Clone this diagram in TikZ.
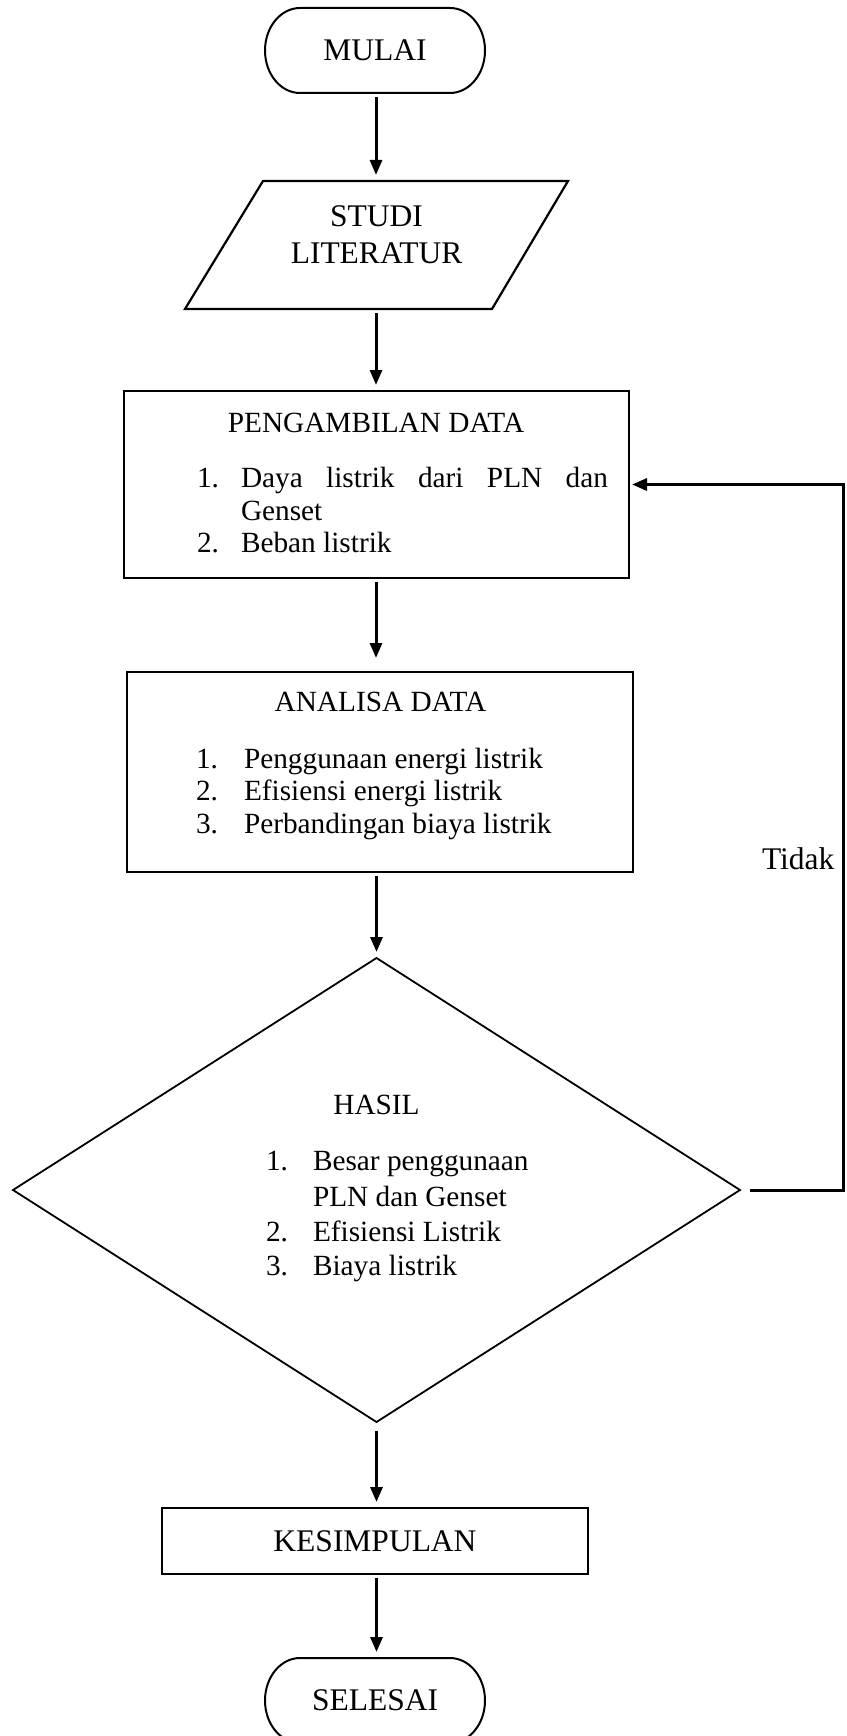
\documentclass[tikz,border=0pt]{standalone}
\usepackage{fontspec}
\setmainfont{Liberation Serif}
\usetikzlibrary{arrows.meta,shapes.geometric}
\newcommand{\termoutline}[1]{%
  \draw[line width=2pt] ([xshift=35pt]#1.north west) -- ([xshift=-35pt]#1.north east)
    arc[start angle=90,end angle=-90,x radius=35pt,y radius=42.5pt]
    -- ([xshift=35pt]#1.south west)
    arc[start angle=270,end angle=90,x radius=35pt,y radius=42.5pt] -- cycle;}
\begin{document}
\begin{tikzpicture}[x=1pt,y=-1pt,
  every node/.style={font=\fontsize{29.3pt}{33pt}\selectfont, inner sep=0pt, outer sep=0pt},
  bigtext/.style={font=\fontsize{31.5pt}{36pt}\selectfont},
  term/.style={bigtext, minimum width=220pt, minimum height=85pt},
  boxnode/.style={draw, line width=2.6pt, rectangle},
  decision/.style={draw, diamond, line width=1.8pt, minimum width=727pt, minimum height=464pt},
  slant/.style={line width=2.2pt, line join=miter},
  txt/.style={anchor=base},
  lst/.style={anchor=base west},
  conn/.style={line width=3pt, -{Triangle[width=12pt,length=15pt]}, shorten <=4pt, shorten >=6pt}
]
\useasboundingbox (0,0) rectangle (846,1736);
\clip (0,0) rectangle (846,1736);
\fill[white] (0,0) rectangle (846,1736);

% start
\node[term] (mulai) at (375,50.5) {MULAI};
\termoutline{mulai}

% studi literatur (parallelogram)
\draw[slant] (263,181) -- (568,181) -- (492,309) -- (185,309) -- cycle;
\coordinate (studiN) at (376,181);
\coordinate (studiS) at (376,309);
\node[txt, bigtext] (studi1) at (376.5,226.5) {STUDI};
\node[txt, bigtext] (studi2) at (376.5,263) {LITERATUR};

% pengambilan data
\node[boxnode, minimum width=505pt, minimum height=187pt] (pd) at (376.5,484.5) {};
\node[txt] (pdT) at (376,432.5) {PENGAMBILAN DATA};
\node[lst] (pd1n) at (197,487.5) {1.};
\node[lst] (pd1) at (241,487.5) {\makebox[367pt][s]{Daya listrik dari PLN dan}};
\node[lst] (pd1b) at (241,520) {Genset};
\node[lst] (pd2n) at (197,552.5) {2.};
\node[lst] (pd2) at (241,552.5) {Beban listrik};

% analisa data
\node[boxnode, minimum width=506pt, minimum height=200pt] (ad) at (380,772) {};
\node[txt] (adT) at (380.5,711.5) {ANALISA DATA};
\node[lst] (ad1n) at (196,768) {1.};
\node[lst] (ad1) at (244,768) {Penggunaan energi listrik};
\node[lst] (ad2n) at (196,800) {2.};
\node[lst] (ad2) at (244,800) {Efisiensi energi listrik};
\node[lst] (ad3n) at (196,833.5) {3.};
\node[lst] (ad3) at (244,833.5) {Perbandingan biaya listrik};

% hasil
\node[decision] (hasil) at (376.5,1190) {};
\node[txt] (hasilT) at (376.5,1114) {HASIL};
\node[lst] (h1n) at (266,1170.5) {1.};
\node[lst] (h1) at (313,1170.5) {Besar penggunaan};
\node[lst] (h1b) at (313,1206) {PLN dan Genset};
\node[lst] (h2n) at (266,1241) {2.};
\node[lst] (h2) at (313,1241) {Efisiensi Listrik};
\node[lst] (h3n) at (266,1275.5) {3.};
\node[lst] (h3) at (313,1275.5) {Biaya listrik};

% kesimpulan
\node[boxnode, bigtext, minimum width=426pt, minimum height=66pt] (kes) at (375,1541) {KESIMPULAN};

% selesai
\node[term] (selesai) at (375,1700.5) {SELESAI};
\termoutline{selesai}

% tidak label
\node[lst, bigtext] (tidak) at (762,869.5) {Tidak};

% connectors
\draw[conn] (mulai.south -| studiN) -- (studiN);
\draw[conn] (studiS) -- (studiS |- pd.north);
\draw[conn, shorten >=14pt] (studiS |- pd.south) -- (studiS |- ad.north);
\draw[conn] (hasil.north |- ad.south) -- (hasil.north);
\draw[conn, shorten <=9pt] (hasil.south) -- (hasil.south |- kes.north);
\draw[conn] (hasil.south |- kes.south) -- (hasil.south |- selesai.north);

\coordinate (fb) at (843.5,484.5);
\draw[line width=3pt, line join=miter, -{Triangle[width=12pt,length=15pt]}, shorten <=10pt, shorten >=3pt]
  (hasil.east) -- (hasil.east -| fb) -- (fb) -- (pd.east);
\end{tikzpicture}
\end{document}
